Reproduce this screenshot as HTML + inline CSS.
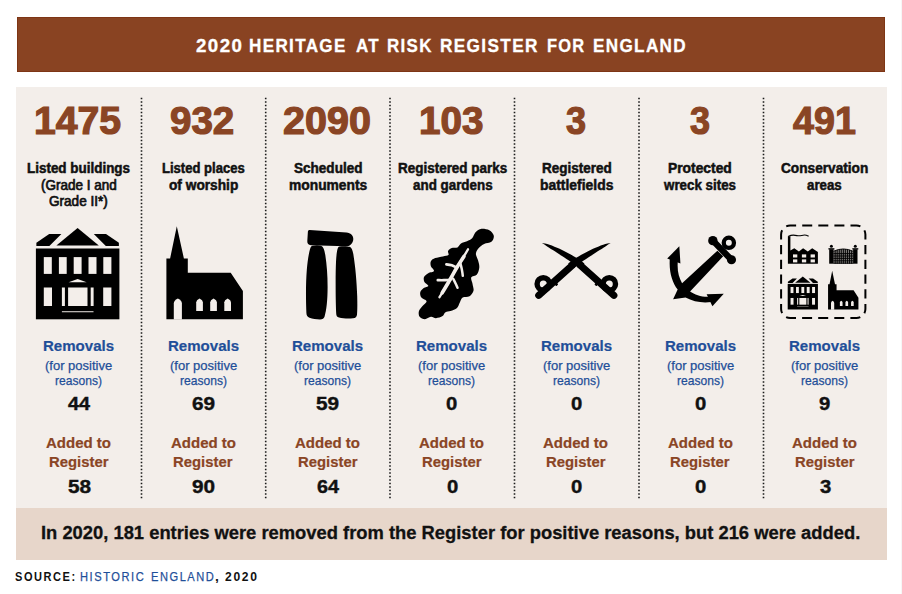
<!DOCTYPE html>
<html lang="en"><head><meta charset="utf-8"><title>2020 Heritage at Risk Register for England</title>
<style>
html,body{margin:0;padding:0;background:#fff;}
body{width:902px;height:594px;position:relative;overflow:hidden;font-family:"Liberation Sans",sans-serif;}
.hdr{position:absolute;left:16.8px;top:16.6px;width:868.3px;height:55.5px;background:#894322;box-shadow:inset 0 0 0 0.8px #7b3212;}
.panel{position:absolute;left:16.2px;top:86.7px;width:870.85px;height:421.8px;background:#f3eeea;}
.band{position:absolute;left:16.2px;top:508.3px;width:870.85px;height:52.1px;background:#e7d6ca;}
.t{position:absolute;white-space:nowrap;transform-origin:0 0;}
svg{position:absolute;left:0;top:0;}
</style></head><body>
<div class="hdr"></div><div class="panel"></div><div class="band"></div><div style="position:absolute;left:901px;top:0;width:1px;height:594px;background:#f6f6f6"></div>
<svg width="902" height="594" viewBox="0 0 902 594">
<g stroke="#1a1a1a" stroke-width="1.6" stroke-dasharray="1.6 1.9" fill="none">
<path d="M141.5 97.7V500.3M265.7 97.7V500.3M390 97.7V500.3M514.5 97.7V500.3M639 97.7V500.3M763.5 97.7V500.3"/>
</g>
<!-- icon 1: listed building -->
<g id="ic-building" fill="#000">
<path d="M77.6 227.9L98.8 245.4H56.4Z"/>
<path d="M49.2 234H61.4L49.4 245.9H36.4V242.8Z"/>
<path d="M106 234H93.8L105.8 245.9H118.9V242.8Z"/>
<rect x="35.9" y="248.5" width="83.5" height="70.8"/>
<g fill="#f3eeea">
<rect x="43.8" y="257.1" width="8" height="16.8"/>
<rect x="58.9" y="257.1" width="7.8" height="16.8"/>
<rect x="73.7" y="257.1" width="7.9" height="16.8"/>
<rect x="88.5" y="257.1" width="8" height="16.8"/>
<rect x="103.3" y="257.1" width="8.1" height="16.8"/>
<rect x="43.8" y="287.5" width="8.2" height="18.5"/>
<rect x="103.2" y="287.5" width="8.2" height="18.5"/>
<rect x="61.9" y="287.5" width="3" height="18.5"/>
<rect x="90.7" y="287.5" width="2.9" height="18.5"/>
<rect x="68.1" y="287.5" width="19.4" height="18.5"/>
<path d="M77.6 279L86.6 282.3H68.6Z"/>
<rect x="61.9" y="311" width="31.6" height="1.3" opacity="0.75"/>
</g>
</g>
<!-- icon 2: church -->
<g id="ic-church">
<path fill="#000" d="M176.8 226.2L183.9 258.5H187.8V272.8H230.7L242.9 291V319.3H166.4V258.5H170.1Z"/>
<g fill="#f3eeea">
<path d="M173.8 319.5V303.4Q173.8 300.4 177.85 298.4Q181.9 300.4 181.9 303.4V319.5Z"/>
<path d="M196.2 310.9V302.2Q196.2 300.2 199.55 298.4Q202.9 300.2 202.9 302.2V310.9Z"/>
<path d="M210.2 310.9V302.2Q210.2 300.2 213.55 298.4Q216.9 300.2 216.9 302.2V310.9Z"/>
<path d="M224.3 310.9V302.2Q224.3 300.2 227.65 298.4Q231 300.2 231 302.2V310.9Z"/>
</g>
</g>
<!-- icon 3: monument -->
<g id="ic-henge" fill="#000">
<path d="M309.6 230L346.5 232.4C350.5 232.7 353.4 235.3 353.3 238.9C353.2 242.8 350.2 246.4 346.2 246.2L311 245.2C308.3 244.8 307.2 243.4 307.3 241.2L307.9 231.6C308 230.6 308.6 230 309.6 230Z"/>
<path d="M312.5 245.8C315.5 245.1 318.5 245.1 321 245.8C323.3 246.5 324.5 250 325.3 255C326.8 265 327.6 275 327.6 287C327.6 300 326.5 310 324.6 316.4C324 318.4 322.5 319.4 320 319.4C316 319.4 312.5 319 309.5 317.8C307.5 317 306.5 315.5 306.4 313C305.8 300 305.8 282 306.8 270C307.5 261 309 252 310.3 248.2C310.8 246.8 311.5 246 312.5 245.8Z"/>
<path d="M339.5 246.6C342.5 245.9 347 246 349.5 246.8C351.5 247.5 352.5 250 353.3 254C355.3 266 356.8 282 357.2 296C357.4 304 357.4 310 357 314.5C356.8 316.8 355.5 318 353 318.3C349 318.8 343 318.6 339 317.6C337 317.1 336.3 315.8 336.2 313.5C335.6 300 335.4 275 336 262C336.3 255 337 250.5 337.8 248.2C338.1 247.3 338.7 246.8 339.5 246.6Z"/>
</g>
<!-- icon 4: oak leaf -->
<g id="ic-leaf">
<path fill="#000" d="M480.7 228.9C483.0 228.5 487.1 229.1 489.3 230.2C491.5 231.4 493.4 233.8 493.8 235.7C494.1 237.7 493.0 240.4 491.4 241.8C489.7 243.1 486.2 243.0 484.1 244.0C482.1 245.0 480.4 246.1 479.0 247.8C477.6 249.4 476.0 251.6 475.9 253.8C475.8 255.9 477.6 258.4 478.1 260.6C478.7 262.9 479.5 265.2 479.3 267.5C479.1 269.8 478.3 272.8 476.9 274.4C475.6 276.0 472.0 275.7 471.3 277.3C470.5 278.9 472.1 281.6 472.5 283.8C472.8 286.1 474.0 288.6 473.5 290.7C473.0 292.8 471.3 295.1 469.5 296.2C467.7 297.3 464.3 296.5 462.7 297.6C461.0 298.7 460.7 301.0 459.7 302.7C458.8 304.4 458.5 306.5 457.0 307.9C455.5 309.3 452.6 310.3 450.6 311.0C448.7 311.7 446.8 311.3 445.5 312.2C444.1 313.0 444.1 315.1 442.6 316.1C441.0 317.1 438.0 318.1 436.0 318.2C434.1 318.3 432.8 316.6 430.9 316.8C429.0 317.0 426.7 319.2 424.9 319.2C423.0 319.2 420.7 318.1 419.7 316.8C418.7 315.5 418.4 313.1 418.9 311.3C419.3 309.5 421.0 307.8 422.3 306.2C423.6 304.5 426.7 302.8 426.6 301.4C426.5 299.9 422.5 299.1 421.4 297.6C420.4 296.1 419.9 294.0 420.2 292.4C420.6 290.8 422.3 289.2 423.7 288.1C425.0 287.0 428.2 286.9 428.3 285.9C428.4 284.9 425.1 283.6 424.4 282.1C423.7 280.6 423.4 278.5 424.0 277.0C424.7 275.5 426.7 274.2 428.3 273.2C430.0 272.2 433.6 272.1 434.0 271.0C434.4 269.8 431.4 267.9 430.9 266.3C430.4 264.7 430.2 262.5 430.9 261.2C431.6 259.8 433.2 258.9 435.2 258.1C437.2 257.3 440.7 256.9 442.9 256.4C445.1 255.8 447.6 255.9 448.4 255.0C449.3 254.1 447.5 252.0 448.1 250.9C448.6 249.7 450.3 248.7 451.8 248.1C453.4 247.5 456.0 248.2 457.5 247.4C459.0 246.6 459.4 244.5 461.0 243.5C462.5 242.4 465.1 242.1 467.0 241.2C468.8 240.4 470.7 239.8 472.1 238.3C473.5 236.8 474.1 233.9 475.5 232.3C477.0 230.7 478.4 229.2 480.7 228.9Z"/>
<g fill="none" stroke="#f3eeea" stroke-linecap="round" stroke-linejoin="round">
<path stroke-width="2.3" d="M468.0 249.3C467.2 250.6 465.4 253.9 463.5 256.9C461.7 259.9 459.2 263.6 457.0 267.3C454.8 271.1 453.0 274.6 450.1 279.5C447.2 284.5 441.3 294.3 439.5 297.2"/>
<path stroke-width="3.6" d="M463.9 256.4C462.7 258.2 459.3 263.5 457.0 267.3C454.7 271.2 452.6 275.3 450.1 279.5C447.7 283.8 443.5 290.6 442.2 292.8"/>
<path stroke-width="2.7" d="M446.4 264.3C447.3 264.4 450.1 264.7 451.8 265.3C453.6 265.9 456.1 267.3 457.0 267.7"/>
<path stroke-width="2.5" d="M460.3 262.9C460.5 263.9 461.4 267.1 461.8 269.2C462.2 271.4 462.7 274.7 462.8 275.8"/>
<path stroke-width="2.7" d="M437.8 280.2C438.8 280.2 441.9 280.3 443.9 280.2C446.0 280.2 449.1 279.9 450.1 279.9"/>
<path stroke-width="2.5" d="M453.2 278.7C453.6 279.5 454.9 282.0 455.6 283.5C456.3 285.0 457.2 287.1 457.5 287.8"/>
</g>
</g>
<!-- icon 5: swords -->
<g id="ic-swords" fill="#000">
<g>
<path d="M542.0 243.0C543.2 243.3 546.6 243.7 549.5 244.7C552.4 245.7 556.5 247.4 559.6 248.8C562.7 250.2 565.4 251.6 568.3 253.2C571.2 254.8 574.7 256.8 577.1 258.2C579.5 259.6 581.6 261.3 582.5 261.9L584.5 263.6L578.4 268.1L576.4 266.3C575.5 265.6 573.5 263.6 571.0 261.9C568.5 260.1 564.6 257.8 561.6 255.8C558.6 253.8 555.4 251.8 552.8 250.1C550.2 248.4 547.9 246.9 546.1 245.7C544.3 244.5 542.7 243.4 542.0 243.0Z"/>
<path fill="none" stroke="#000" stroke-width="7" stroke-linecap="round" d="M580.1 265.2L613.9 295.3"/>
<circle fill="none" stroke="#000" stroke-width="5.4" cx="609.3" cy="283.9" r="6.2"/>
<rect x="594.9" y="282.9" width="2.8" height="2.8" rx="0.6" transform="rotate(41 596.3 284.3)"/>
</g>
<g transform="translate(1152.60 0) scale(-1 1)">
<path d="M542.0 243.0C543.2 243.3 546.6 243.7 549.5 244.7C552.4 245.7 556.5 247.4 559.6 248.8C562.7 250.2 565.4 251.6 568.3 253.2C571.2 254.8 574.7 256.8 577.1 258.2C579.5 259.6 581.6 261.3 582.5 261.9L584.5 263.6L578.4 268.1L576.4 266.3C575.5 265.6 573.5 263.6 571.0 261.9C568.5 260.1 564.6 257.8 561.6 255.8C558.6 253.8 555.4 251.8 552.8 250.1C550.2 248.4 547.9 246.9 546.1 245.7C544.3 244.5 542.7 243.4 542.0 243.0Z"/>
<path fill="none" stroke="#000" stroke-width="7" stroke-linecap="round" d="M580.1 265.2L613.9 295.3"/>
<circle fill="none" stroke="#000" stroke-width="5.4" cx="609.3" cy="283.9" r="6.2"/>
<rect x="594.9" y="282.9" width="2.8" height="2.8" rx="0.6" transform="rotate(41 596.3 284.3)"/>
</g>
</g>
<!-- icon 6: anchor -->
<g id="ic-anchor" transform="translate(660 230) scale(0.13799)" fill="#000">
<circle cx="499" cy="93" r="37" fill="none" stroke="#000" stroke-width="31"/>
<path fill="none" stroke="#000" stroke-width="46" stroke-linecap="round" d="M385 79L516 214"/>
<circle cx="383" cy="77" r="34"/><circle cx="518" cy="216" r="33"/>
<path d="M72 198C62 300 88 380 128 432L95 502L185 490C240 520 310 532 372 522L352 484C300 486 250 468 218 445L458 190L416 150L160 385C135 340 122 290 130 215Z"/>
<path d="M140 118L52 207L148 242Z"/>
<path d="M462 462L338 466L380 552Z"/>
</g>
<!-- icon 7: conservation area -->
<g id="ic-cons">
<g fill="none" stroke="#000" stroke-width="2">
<path d="M783.74 228.14A9.0 9.0 0 0 1 790.1 225.5L856.4 225.5A9.0 9.0 0 0 1 862.76 228.14" stroke-dasharray="10.00 6.09" stroke-dashoffset="13.04"/>
<path d="M862.76 228.14A9.0 9.0 0 0 1 865.4 234.5L865.4 309.0A9.0 9.0 0 0 1 862.76 315.36" stroke-dasharray="9.20 5.57" stroke-dashoffset="11.99"/>
<path d="M862.76 315.36A9.0 9.0 0 0 1 856.4 318.0L790.1 318.0A9.0 9.0 0 0 1 783.74 315.36" stroke-dasharray="10.00 6.09" stroke-dashoffset="13.04"/>
<path d="M783.74 315.36A9.0 9.0 0 0 1 781.1 309.0L781.1 234.5A9.0 9.0 0 0 1 783.74 228.14" stroke-dasharray="9.20 5.57" stroke-dashoffset="11.99"/>
</g>
<g fill="#000">
<path d="M787.9 263.7V236.2H790.4V250.6L794.3 248.3L798.9 251.6L803.1 248.3L807.8 251.6L812.2 248.3L817.9 251.9V263.7Z"/>
<path fill="none" stroke="#000" stroke-width="1.1" stroke-linecap="round" d="M788.6 236.2C791 235 794 234.8 797 235.6C800 236.4 802 235 804.5 235C806.5 235 807.5 235.6 808.3 236"/>
<g fill="#f3eeea">
<rect x="793" y="254.4" width="4.3" height="3.1"/><rect x="801.9" y="254.4" width="4.3" height="3.1"/><rect x="810.6" y="254.4" width="4.3" height="3.1"/>
<rect x="793" y="259.4" width="4.3" height="3"/><rect x="801.9" y="259.4" width="4.3" height="3"/><rect x="810.6" y="259.4" width="4.3" height="3"/>
</g>
</g>
<g fill="#000">
<rect x="829.2" y="249.2" width="4.4" height="14.5"/><rect x="853.1" y="249.2" width="4.4" height="14.5"/>
<rect x="828.4" y="248.2" width="6" height="1.3"/><rect x="852.3" y="248.2" width="6" height="1.3"/>
<circle cx="831.4" cy="246.3" r="1.5"/><circle cx="855.3" cy="246.3" r="1.5"/>
<path d="M833.4 263.7V251.3Q843.3 246.6 853.3 251.3V263.7Z" fill="#000" opacity="0.5"/>
<g fill="none" stroke="#000" stroke-width="0.9">
<path d="M835.2 250.5V263.7M837.2 249.9V263.7M839.3 249.4V263.7M841.3 249.1V263.7M843.4 249.0V263.7M845.4 249.1V263.7M847.5 249.4V263.7M849.5 249.9V263.7M851.6 250.6V263.7"/>
<path d="M833.4 251.3Q843.3 246.6 853.3 251.3M833.4 253.6H853.3M833.4 256H853.3M833.4 258.4H853.3M833.4 260.8H853.3M833.4 263.2H853.3"/>
</g>
</g>
<g transform="translate(774.7 193.9) scale(0.362)" fill="#000">
<path d="M77.6 227.9L98.8 245.4H56.4Z"/>
<path d="M49.2 234H61.4L49.4 245.9H36.4V242.8Z"/>
<path d="M106 234H93.8L105.8 245.9H118.9V242.8Z"/>
<rect x="35.9" y="248.5" width="83.5" height="70.8"/>
<g fill="#f3eeea">
<rect x="43.8" y="257.1" width="8" height="16.8"/>
<rect x="58.9" y="257.1" width="7.8" height="16.8"/>
<rect x="73.7" y="257.1" width="7.9" height="16.8"/>
<rect x="88.5" y="257.1" width="8" height="16.8"/>
<rect x="103.3" y="257.1" width="8.1" height="16.8"/>
<rect x="43.8" y="287.5" width="8.2" height="18.5"/>
<rect x="103.2" y="287.5" width="8.2" height="18.5"/>
<rect x="61.9" y="287.5" width="3" height="18.5"/>
<rect x="90.7" y="287.5" width="2.9" height="18.5"/>
<rect x="68.1" y="287.5" width="19.4" height="18.5"/>
<path d="M77.6 279L86.6 282.3H68.6Z"/>
<rect x="61.9" y="311" width="31.6" height="1.3" opacity="0.75"/>
</g>
</g>
<g transform="translate(762 176.4) scale(0.397 0.417)">
<path fill="#000" d="M176.8 226.2L183.9 258.5H187.8V272.8H230.7L242.9 291V319.3H166.4V258.5H170.1Z"/>
<g fill="#f3eeea">
<path d="M173.8 319.5V303.4Q173.8 300.4 177.85 298.4Q181.9 300.4 181.9 303.4V319.5Z"/>
<path d="M196.2 310.9V302.2Q196.2 300.2 199.55 298.4Q202.9 300.2 202.9 302.2V310.9Z"/>
<path d="M210.2 310.9V302.2Q210.2 300.2 213.55 298.4Q216.9 300.2 216.9 302.2V310.9Z"/>
<path d="M224.3 310.9V302.2Q224.3 300.2 227.65 298.4Q231 300.2 231 302.2V310.9Z"/>
</g>
</g>
</g>
<!-- end icon 7 -->
</svg>
<div class="t" style="left:195.65px;top:36px;line-height:20px;font-size:18.0px;font-weight:700;color:#ffffff;transform:scaleX(1.0400);letter-spacing:1.4px;-webkit-text-stroke:0.3px #ffffff;">2020</div>
<div class="t" style="left:249.30px;top:36px;line-height:20px;font-size:18.0px;font-weight:700;color:#ffffff;transform:scaleX(0.9496);letter-spacing:1.4px;-webkit-text-stroke:0.3px #ffffff;">HERITAGE</div>
<div class="t" style="left:355.65px;top:36px;line-height:20px;font-size:18.0px;font-weight:700;color:#ffffff;transform:scaleX(0.9434);letter-spacing:1.4px;-webkit-text-stroke:0.3px #ffffff;">AT</div>
<div class="t" style="left:387.11px;top:36px;line-height:20px;font-size:18.0px;font-weight:700;color:#ffffff;transform:scaleX(0.9414);letter-spacing:1.4px;-webkit-text-stroke:0.3px #ffffff;">RISK</div>
<div class="t" style="left:439.99px;top:36px;line-height:20px;font-size:18.0px;font-weight:700;color:#ffffff;transform:scaleX(0.9572);letter-spacing:1.4px;-webkit-text-stroke:0.3px #ffffff;">REGISTER</div>
<div class="t" style="left:546.74px;top:36px;line-height:20px;font-size:18.0px;font-weight:700;color:#ffffff;transform:scaleX(0.9122);letter-spacing:1.4px;-webkit-text-stroke:0.3px #ffffff;">FOR</div>
<div class="t" style="left:593.00px;top:36px;line-height:20px;font-size:18.0px;font-weight:700;color:#ffffff;transform:scaleX(0.9513);letter-spacing:1.4px;-webkit-text-stroke:0.3px #ffffff;">ENGLAND</div>
<div class="t" style="left:33.95px;top:99px;line-height:43px;font-size:38.3px;font-weight:700;color:#8a4524;transform:scaleX(1.0230);-webkit-text-stroke:1.2px #8a4524;">1475</div>
<div class="t" style="left:169.99px;top:99px;line-height:43px;font-size:38.3px;font-weight:700;color:#8a4524;transform:scaleX(1.0065);-webkit-text-stroke:1.2px #8a4524;">932</div>
<div class="t" style="left:282.82px;top:99px;line-height:43px;font-size:38.3px;font-weight:700;color:#8a4524;transform:scaleX(1.0314);-webkit-text-stroke:1.2px #8a4524;">2090</div>
<div class="t" style="left:419.03px;top:99px;line-height:43px;font-size:38.3px;font-weight:700;color:#8a4524;transform:scaleX(1.0083);-webkit-text-stroke:1.2px #8a4524;">103</div>
<div class="t" style="left:565.90px;top:99px;line-height:43px;font-size:38.3px;font-weight:700;color:#8a4524;transform:scaleX(0.9400);-webkit-text-stroke:1.2px #8a4524;">3</div>
<div class="t" style="left:689.90px;top:99px;line-height:43px;font-size:38.3px;font-weight:700;color:#8a4524;transform:scaleX(0.9400);-webkit-text-stroke:1.2px #8a4524;">3</div>
<div class="t" style="left:793.00px;top:99px;line-height:43px;font-size:38.3px;font-weight:700;color:#8a4524;transform:scaleX(0.9843);-webkit-text-stroke:1.2px #8a4524;">491</div>
<div class="t" style="left:27.05px;top:160px;line-height:16px;font-size:13.9px;font-weight:700;color:#111111;transform:scaleX(0.9675);-webkit-text-stroke:0.5px #111111;">Listed buildings</div>
<div class="t" style="left:40.90px;top:177px;line-height:16px;font-size:13.9px;font-weight:400;color:#111111;transform:scaleX(0.9707);-webkit-text-stroke:0.7px #111111;">(Grade I and</div>
<div class="t" style="left:49.30px;top:193px;line-height:16px;font-size:13.9px;font-weight:400;color:#111111;transform:scaleX(0.9767);-webkit-text-stroke:0.7px #111111;">Grade II*)</div>
<div class="t" style="left:162.35px;top:160px;line-height:16px;font-size:13.9px;font-weight:700;color:#111111;transform:scaleX(0.9390);-webkit-text-stroke:0.5px #111111;">Listed places</div>
<div class="t" style="left:168.60px;top:177px;line-height:16px;font-size:13.9px;font-weight:700;color:#111111;transform:scaleX(0.9866);-webkit-text-stroke:0.5px #111111;">of worship</div>
<div class="t" style="left:294.00px;top:160px;line-height:16px;font-size:13.9px;font-weight:700;color:#111111;transform:scaleX(0.9748);-webkit-text-stroke:0.5px #111111;">Scheduled</div>
<div class="t" style="left:288.95px;top:177px;line-height:16px;font-size:13.9px;font-weight:700;color:#111111;transform:scaleX(0.9938);-webkit-text-stroke:0.5px #111111;">monuments</div>
<div class="t" style="left:398.25px;top:160px;line-height:16px;font-size:13.9px;font-weight:700;color:#111111;transform:scaleX(0.9691);-webkit-text-stroke:0.5px #111111;">Registered parks</div>
<div class="t" style="left:413.15px;top:177px;line-height:16px;font-size:13.9px;font-weight:700;color:#111111;transform:scaleX(0.9642);-webkit-text-stroke:0.5px #111111;">and gardens</div>
<div class="t" style="left:542.05px;top:160px;line-height:16px;font-size:13.9px;font-weight:700;color:#111111;transform:scaleX(0.9718);-webkit-text-stroke:0.5px #111111;">Registered</div>
<div class="t" style="left:539.85px;top:177px;line-height:16px;font-size:13.9px;font-weight:700;color:#111111;transform:scaleX(1.0013);-webkit-text-stroke:0.5px #111111;">battlefields</div>
<div class="t" style="left:667.95px;top:160px;line-height:16px;font-size:13.9px;font-weight:700;color:#111111;transform:scaleX(0.9956);-webkit-text-stroke:0.5px #111111;">Protected</div>
<div class="t" style="left:664.26px;top:177px;line-height:16px;font-size:13.9px;font-weight:700;color:#111111;transform:scaleX(0.9609);-webkit-text-stroke:0.5px #111111;">wreck sites</div>
<div class="t" style="left:780.80px;top:160px;line-height:16px;font-size:13.9px;font-weight:700;color:#111111;transform:scaleX(0.9833);-webkit-text-stroke:0.5px #111111;">Conservation</div>
<div class="t" style="left:806.50px;top:177px;line-height:16px;font-size:13.9px;font-weight:700;color:#111111;transform:scaleX(0.9568);-webkit-text-stroke:0.5px #111111;">areas</div>
<div class="t" style="left:43.39px;top:338px;line-height:16px;font-size:14.9px;font-weight:700;color:#1f4f99;transform:scaleX(1.0106);-webkit-text-stroke:0.2px #1f4f99;">Removals</div>
<div class="t" style="left:45.42px;top:358px;line-height:15px;font-size:13px;font-weight:400;color:#1f4f99;transform:scaleX(0.9999);-webkit-text-stroke:0.25px #1f4f99;">(for positive</div>
<div class="t" style="left:55.47px;top:373px;line-height:15px;font-size:13px;font-weight:400;color:#1f4f99;transform:scaleX(0.9284);-webkit-text-stroke:0.25px #1f4f99;">reasons)</div>
<div class="t" style="left:67.50px;top:393px;line-height:21px;font-size:18.8px;font-weight:700;color:#111111;transform:scaleX(1.0538);-webkit-text-stroke:0.4px #111111;">44</div>
<div class="t" style="left:46.25px;top:435px;line-height:16px;font-size:14.9px;font-weight:700;color:#8a4524;transform:scaleX(1.0075);-webkit-text-stroke:0.2px #8a4524;">Added to</div>
<div class="t" style="left:48.95px;top:454px;line-height:16px;font-size:14.9px;font-weight:700;color:#8a4524;transform:scaleX(0.9985);-webkit-text-stroke:0.2px #8a4524;">Register</div>
<div class="t" style="left:67.90px;top:476px;line-height:21px;font-size:18.8px;font-weight:700;color:#111111;transform:scaleX(1.1054);-webkit-text-stroke:0.4px #111111;">58</div>
<div class="t" style="left:167.69px;top:338px;line-height:16px;font-size:14.9px;font-weight:700;color:#1f4f99;transform:scaleX(1.0106);-webkit-text-stroke:0.2px #1f4f99;">Removals</div>
<div class="t" style="left:169.72px;top:358px;line-height:15px;font-size:13px;font-weight:400;color:#1f4f99;transform:scaleX(0.9999);-webkit-text-stroke:0.25px #1f4f99;">(for positive</div>
<div class="t" style="left:179.77px;top:373px;line-height:15px;font-size:13px;font-weight:400;color:#1f4f99;transform:scaleX(0.9284);-webkit-text-stroke:0.25px #1f4f99;">reasons)</div>
<div class="t" style="left:191.80px;top:393px;line-height:21px;font-size:18.8px;font-weight:700;color:#111111;transform:scaleX(1.1054);-webkit-text-stroke:0.4px #111111;">69</div>
<div class="t" style="left:170.55px;top:435px;line-height:16px;font-size:14.9px;font-weight:700;color:#8a4524;transform:scaleX(1.0075);-webkit-text-stroke:0.2px #8a4524;">Added to</div>
<div class="t" style="left:173.25px;top:454px;line-height:16px;font-size:14.9px;font-weight:700;color:#8a4524;transform:scaleX(0.9985);-webkit-text-stroke:0.2px #8a4524;">Register</div>
<div class="t" style="left:192.20px;top:476px;line-height:21px;font-size:18.8px;font-weight:700;color:#111111;transform:scaleX(1.1054);-webkit-text-stroke:0.4px #111111;">90</div>
<div class="t" style="left:291.99px;top:338px;line-height:16px;font-size:14.9px;font-weight:700;color:#1f4f99;transform:scaleX(1.0106);-webkit-text-stroke:0.2px #1f4f99;">Removals</div>
<div class="t" style="left:294.02px;top:358px;line-height:15px;font-size:13px;font-weight:400;color:#1f4f99;transform:scaleX(0.9999);-webkit-text-stroke:0.25px #1f4f99;">(for positive</div>
<div class="t" style="left:304.07px;top:373px;line-height:15px;font-size:13px;font-weight:400;color:#1f4f99;transform:scaleX(0.9284);-webkit-text-stroke:0.25px #1f4f99;">reasons)</div>
<div class="t" style="left:316.10px;top:393px;line-height:21px;font-size:18.8px;font-weight:700;color:#111111;transform:scaleX(1.1054);-webkit-text-stroke:0.4px #111111;">59</div>
<div class="t" style="left:294.85px;top:435px;line-height:16px;font-size:14.9px;font-weight:700;color:#8a4524;transform:scaleX(1.0075);-webkit-text-stroke:0.2px #8a4524;">Added to</div>
<div class="t" style="left:297.55px;top:454px;line-height:16px;font-size:14.9px;font-weight:700;color:#8a4524;transform:scaleX(0.9985);-webkit-text-stroke:0.2px #8a4524;">Register</div>
<div class="t" style="left:316.50px;top:476px;line-height:21px;font-size:18.8px;font-weight:700;color:#111111;transform:scaleX(1.0538);-webkit-text-stroke:0.4px #111111;">64</div>
<div class="t" style="left:416.29px;top:338px;line-height:16px;font-size:14.9px;font-weight:700;color:#1f4f99;transform:scaleX(1.0106);-webkit-text-stroke:0.2px #1f4f99;">Removals</div>
<div class="t" style="left:418.32px;top:358px;line-height:15px;font-size:13px;font-weight:400;color:#1f4f99;transform:scaleX(0.9999);-webkit-text-stroke:0.25px #1f4f99;">(for positive</div>
<div class="t" style="left:428.38px;top:373px;line-height:15px;font-size:13px;font-weight:400;color:#1f4f99;transform:scaleX(0.9284);-webkit-text-stroke:0.25px #1f4f99;">reasons)</div>
<div class="t" style="left:446.30px;top:393px;line-height:21px;font-size:18.8px;font-weight:700;color:#111111;transform:scaleX(1.0800);-webkit-text-stroke:0.4px #111111;">0</div>
<div class="t" style="left:419.15px;top:435px;line-height:16px;font-size:14.9px;font-weight:700;color:#8a4524;transform:scaleX(1.0075);-webkit-text-stroke:0.2px #8a4524;">Added to</div>
<div class="t" style="left:421.85px;top:454px;line-height:16px;font-size:14.9px;font-weight:700;color:#8a4524;transform:scaleX(0.9985);-webkit-text-stroke:0.2px #8a4524;">Register</div>
<div class="t" style="left:446.70px;top:476px;line-height:21px;font-size:18.8px;font-weight:700;color:#111111;transform:scaleX(1.0800);-webkit-text-stroke:0.4px #111111;">0</div>
<div class="t" style="left:540.59px;top:338px;line-height:16px;font-size:14.9px;font-weight:700;color:#1f4f99;transform:scaleX(1.0106);-webkit-text-stroke:0.2px #1f4f99;">Removals</div>
<div class="t" style="left:542.62px;top:358px;line-height:15px;font-size:13px;font-weight:400;color:#1f4f99;transform:scaleX(0.9999);-webkit-text-stroke:0.25px #1f4f99;">(for positive</div>
<div class="t" style="left:552.67px;top:373px;line-height:15px;font-size:13px;font-weight:400;color:#1f4f99;transform:scaleX(0.9284);-webkit-text-stroke:0.25px #1f4f99;">reasons)</div>
<div class="t" style="left:570.60px;top:393px;line-height:21px;font-size:18.8px;font-weight:700;color:#111111;transform:scaleX(1.0800);-webkit-text-stroke:0.4px #111111;">0</div>
<div class="t" style="left:543.45px;top:435px;line-height:16px;font-size:14.9px;font-weight:700;color:#8a4524;transform:scaleX(1.0075);-webkit-text-stroke:0.2px #8a4524;">Added to</div>
<div class="t" style="left:546.15px;top:454px;line-height:16px;font-size:14.9px;font-weight:700;color:#8a4524;transform:scaleX(0.9985);-webkit-text-stroke:0.2px #8a4524;">Register</div>
<div class="t" style="left:571.00px;top:476px;line-height:21px;font-size:18.8px;font-weight:700;color:#111111;transform:scaleX(1.0800);-webkit-text-stroke:0.4px #111111;">0</div>
<div class="t" style="left:664.89px;top:338px;line-height:16px;font-size:14.9px;font-weight:700;color:#1f4f99;transform:scaleX(1.0106);-webkit-text-stroke:0.2px #1f4f99;">Removals</div>
<div class="t" style="left:666.92px;top:358px;line-height:15px;font-size:13px;font-weight:400;color:#1f4f99;transform:scaleX(0.9999);-webkit-text-stroke:0.25px #1f4f99;">(for positive</div>
<div class="t" style="left:676.98px;top:373px;line-height:15px;font-size:13px;font-weight:400;color:#1f4f99;transform:scaleX(0.9284);-webkit-text-stroke:0.25px #1f4f99;">reasons)</div>
<div class="t" style="left:694.90px;top:393px;line-height:21px;font-size:18.8px;font-weight:700;color:#111111;transform:scaleX(1.0800);-webkit-text-stroke:0.4px #111111;">0</div>
<div class="t" style="left:667.75px;top:435px;line-height:16px;font-size:14.9px;font-weight:700;color:#8a4524;transform:scaleX(1.0075);-webkit-text-stroke:0.2px #8a4524;">Added to</div>
<div class="t" style="left:670.45px;top:454px;line-height:16px;font-size:14.9px;font-weight:700;color:#8a4524;transform:scaleX(0.9985);-webkit-text-stroke:0.2px #8a4524;">Register</div>
<div class="t" style="left:695.30px;top:476px;line-height:21px;font-size:18.8px;font-weight:700;color:#111111;transform:scaleX(1.0800);-webkit-text-stroke:0.4px #111111;">0</div>
<div class="t" style="left:789.19px;top:338px;line-height:16px;font-size:14.9px;font-weight:700;color:#1f4f99;transform:scaleX(1.0106);-webkit-text-stroke:0.2px #1f4f99;">Removals</div>
<div class="t" style="left:791.22px;top:358px;line-height:15px;font-size:13px;font-weight:400;color:#1f4f99;transform:scaleX(0.9999);-webkit-text-stroke:0.25px #1f4f99;">(for positive</div>
<div class="t" style="left:801.27px;top:373px;line-height:15px;font-size:13px;font-weight:400;color:#1f4f99;transform:scaleX(0.9284);-webkit-text-stroke:0.25px #1f4f99;">reasons)</div>
<div class="t" style="left:819.20px;top:393px;line-height:21px;font-size:18.8px;font-weight:700;color:#111111;transform:scaleX(1.0800);-webkit-text-stroke:0.4px #111111;">9</div>
<div class="t" style="left:792.05px;top:435px;line-height:16px;font-size:14.9px;font-weight:700;color:#8a4524;transform:scaleX(1.0075);-webkit-text-stroke:0.2px #8a4524;">Added to</div>
<div class="t" style="left:794.75px;top:454px;line-height:16px;font-size:14.9px;font-weight:700;color:#8a4524;transform:scaleX(0.9985);-webkit-text-stroke:0.2px #8a4524;">Register</div>
<div class="t" style="left:819.60px;top:476px;line-height:21px;font-size:18.8px;font-weight:700;color:#111111;transform:scaleX(1.0800);-webkit-text-stroke:0.4px #111111;">3</div>
<div class="t" style="left:40.78px;top:522px;line-height:21px;font-size:18.9px;font-weight:700;color:#111111;transform:scaleX(0.9718);-webkit-text-stroke:0.3px #111111;">In 2020, 181 entries were removed from the Register for positive reasons, but 216 were added.</div>
<div class="t" style="left:15.00px;top:569px;line-height:15px;font-size:13px;font-weight:700;color:#111111;transform:scaleX(0.8492);letter-spacing:1.8px;">SOURCE:</div>
<div class="t" style="left:80.47px;top:569px;line-height:15px;font-size:13px;font-weight:400;color:#1f4f99;transform:scaleX(0.8558);letter-spacing:1.8px;-webkit-text-stroke:0.25px #1f4f99;">HISTORIC</div>
<div class="t" style="left:150.57px;top:569px;line-height:15px;font-size:13px;font-weight:400;color:#1f4f99;transform:scaleX(0.8532);letter-spacing:1.8px;-webkit-text-stroke:0.25px #1f4f99;">ENGLAND</div>
<div class="t" style="left:215.40px;top:569px;line-height:15px;font-size:13px;font-weight:700;color:#111111;transform:scaleX(1.0667);">,</div>
<div class="t" style="left:224.80px;top:569px;line-height:15px;font-size:13px;font-weight:700;color:#111111;transform:scaleX(0.9299);letter-spacing:1.8px;">2020</div>
</body></html>
